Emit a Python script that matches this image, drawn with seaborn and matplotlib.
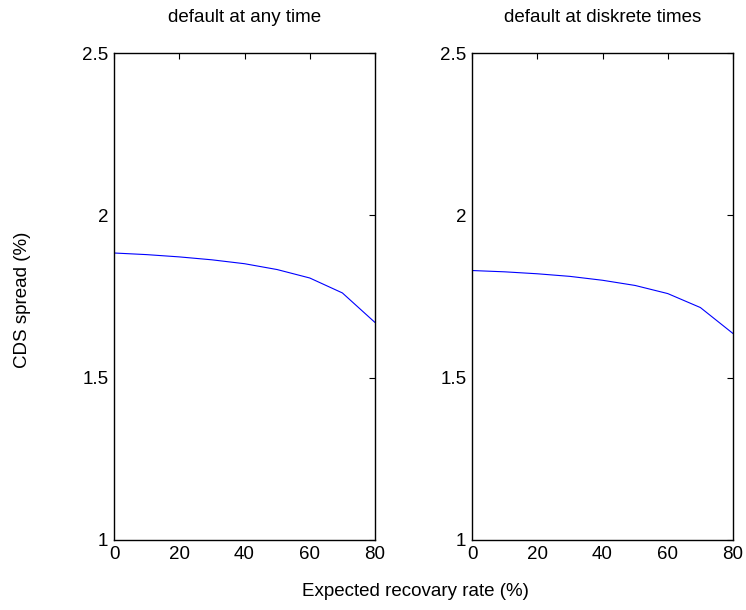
import pandas as pd
import matplotlib
matplotlib.use("Agg")
import matplotlib.pyplot as plt
import seaborn as sns

recovery = [0, 10, 20, 30, 40, 50, 60, 70, 80]
spread_any = [1.884, 1.879, 1.872, 1.863, 1.851, 1.833, 1.807, 1.761, 1.670]
spread_disc = [1.830, 1.826, 1.820, 1.812, 1.800, 1.784, 1.759, 1.716, 1.636]
titles = ["default at any time", "default at diskrete times"]
yticks = [1, 1.5, 2, 2.5]
yticklabels = ["1", "1.5", "2", "2.5"]
xticks = [0, 20, 40, 60, 80]

sns.set_style("white")
plt.rcParams['font.family'] = ['Liberation Sans', 'DejaVu Sans']
plt.rcParams['font.size'] = 13.5
plt.rcParams['text.color'] = 'black'

fig = plt.figure(figsize=(7.46, 6.10), dpi=100)
W, H = 746, 610
positions = [(114, 53, 375, 540), (472, 53, 733, 540)]

for (x0, y0, x1, y1), vals, title in zip(positions, [spread_any, spread_disc], titles):
    ax = fig.add_axes([x0 / W, 1 - y1 / H, (x1 - x0) / W, (y1 - y0) / H])
    df = pd.DataFrame({'R': recovery, 'S': vals})
    sns.lineplot(data=df, x='R', y='S', ax=ax, color='#0000ff', linewidth=0.8)
    ax.set_xlim(0, 80)
    ax.set_ylim(1, 2.5)
    ax.set_xticks(xticks)
    ax.set_yticks(yticks)
    ax.set_yticklabels(yticklabels)
    ax.set_xlabel('')
    ax.set_ylabel('')
    ax.set_title(title, fontsize=13.5, pad=22, color='black')
    ax.tick_params(direction='in', length=4, width=0.8, top=True, right=True,
                   labelsize=13.5, pad=4, colors='black')
    for sp in ax.spines.values():
        sp.set_visible(True)
        sp.set_color('black')
        sp.set_linewidth(1.0)

fig.text(415 / W, 1 - 592 / H, 'Expected recovary rate (%)', ha='center', va='center', fontsize=13.5)
fig.text(23 / W, 1 - 300 / H, 'CDS spread (%)', ha='center', va='center', rotation=90, fontsize=13.5)

fig.savefig('out.png', dpi=100, facecolor='white')
